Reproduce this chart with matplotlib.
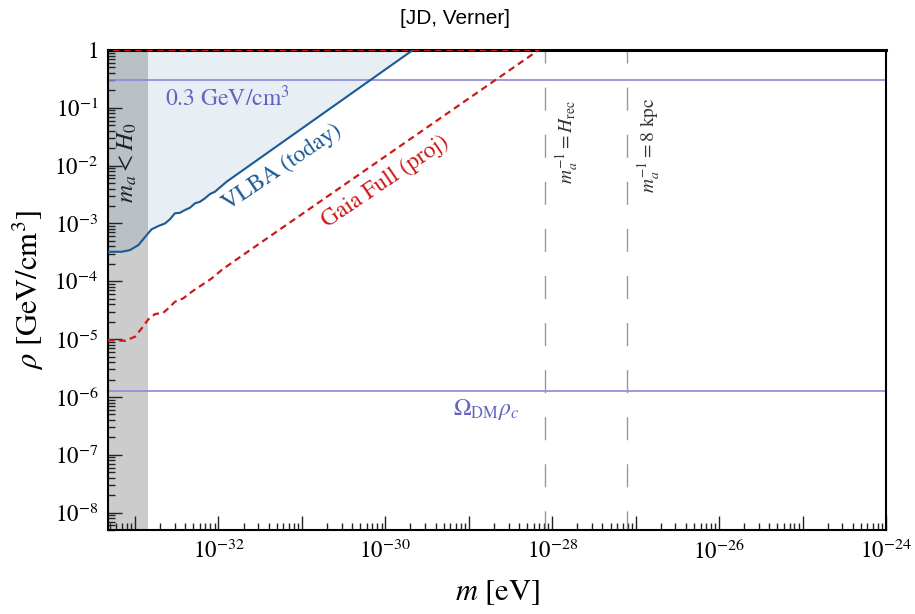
import numpy as np
import matplotlib
matplotlib.use("Agg")
import matplotlib.pyplot as plt
from matplotlib.ticker import FixedLocator, FuncFormatter, NullFormatter

plt.rcParams['font.family'] = ['STIXGeneral', 'DejaVu Serif']
plt.rcParams['mathtext.fontset'] = 'stix'

# Axis ranges
m_min, m_max = 4.75e-34, 1e-24
rho_min, rho_max = 5.0e-9, 1.0

# VLBA (today) bound
vlba_m = [4.75e-34, 6.93e-34, 8.71e-34, 1.10e-33, 1.38e-33, 1.58e-33, 1.90e-33,
          2.29e-33, 2.62e-33, 3.01e-33, 3.46e-33, 3.97e-33, 4.56e-33, 5.24e-33,
          6.00e-33, 6.89e-33, 7.91e-33, 9.08e-33, 1.25e-32, 2.14e-30]
vlba_rho = [3.24e-4, 3.24e-4, 3.47e-4, 4.23e-4, 6.30e-4, 7.91e-4, 9.02e-4,
            1.00e-3, 1.18e-3, 1.50e-3, 1.53e-3, 1.71e-3, 1.87e-3, 2.23e-3,
            2.37e-3, 2.72e-3, 3.23e-3, 3.54e-3, 5.26e-3, 1.0]

# Gaia Full (projected) bound
gaia_m = [4.75e-34, 7.59e-34, 1.00e-33, 1.20e-33, 1.44e-33, 1.74e-33, 2.18e-33,
          2.51e-33, 3.01e-33, 3.78e-33, 4.78e-33, 6.30e-33, 8.30e-33, 1.09e-32,
          1.50e-32, 6.89e-29]
gaia_rho = [9.62e-6, 9.35e-6, 1.10e-5, 1.53e-5, 2.19e-5, 2.71e-5, 2.85e-5,
            3.40e-5, 4.42e-5, 5.06e-5, 6.58e-5, 8.59e-5, 1.12e-4, 1.56e-4,
            2.17e-4, 1.0]

# Reference scales
H0 = 1.44e-33          # eV
m_Hrec = 8.3e-29       # eV
m_8kpc = 7.9e-28       # eV
rho_local = 0.3        # GeV/cm^3
rho_cosmo = 1.26e-6    # GeV/cm^3

# Tick decades
x_decades = list(range(-33, -23))
y_decades = list(range(-8, 1))

blue = '#1a5a96'
red = '#cc1a1a'
lav = '#8a8ad8'
lavtxt = '#6464c0'

fig = plt.figure(figsize=(9.15, 6.14), dpi=100)
ax = fig.add_axes([108/915, 1-530/614, (886-108)/915, (530-50)/614])
ax.set_xscale('log')
ax.set_yscale('log')
ax.set_xlim(m_min, m_max)
ax.set_ylim(rho_min, rho_max)

# m_a < H_0 region
ax.axvspan(m_min, H0, color='#cccccc', lw=0, zorder=0)

# VLBA excluded region
ax.fill_between(vlba_m, vlba_rho, rho_max, color=blue, alpha=0.1, lw=0, zorder=1)
ax.plot(vlba_m, vlba_rho, color=blue, lw=1.5, zorder=3)

# Gaia projection (closed along the top edge)
ax.plot(gaia_m + [m_min], gaia_rho + [rho_max], color=red, lw=1.6,
        ls=(0, (3, 2)), zorder=3)

# Reference densities
ax.axhline(rho_local, color=lav, lw=1.2, zorder=2)
ax.axhline(rho_cosmo, color=lav, lw=1.2, zorder=2)

# Reference masses, dashed from the top edge downwards
for mv in (m_Hrec, m_8kpc):
    ax.plot([mv, mv], [rho_max, rho_min], color='#999999', lw=1.0,
            ls=(7.2, (16.6, 17.3)), zorder=2)

# Annotations
ax.text(10**-32.64, 10**-0.83, r'0.3 GeV/cm$^3$', color=lavtxt, fontsize=17,
        ha='left', va='center')
ax.text(10**-29.19, 10**-6.22, r'$\Omega_{\rm DM}\rho_c$', color=lavtxt, fontsize=17,
        ha='left', va='center')
ax.text(10**-33.084, 10**-1.955, r'$m_a < H_0$', color='#222222', fontsize=18,
        rotation=90, ha='center', va='center')
ax.text(10**-31.23, 10**-2.03, 'VLBA (today)', color=blue, fontsize=17,
        rotation=34, ha='center', va='center', rotation_mode='anchor')
ax.text(10**-30.0, 10**-2.28, 'Gaia Full (proj)', color=red, fontsize=17,
        rotation=34, ha='center', va='center', rotation_mode='anchor')
ax.text(10**-27.82, 10**-1.6, r'$m_a^{-1} = H_{\rm rec}$', color='#333333',
        fontsize=14, rotation=90, ha='center', va='center')
ax.text(10**-26.84, 10**-1.65, r'$m_a^{-1} = 8$ kpc', color='#333333',
        fontsize=14, rotation=90, ha='center', va='center')

# Ticks (only within the visible range)
x_major = [10.0**e for e in x_decades]
x_minor = [k * 10.0**e for e in range(-34, -24) for k in range(2, 10)
           if m_min <= k * 10.0**e <= m_max]
y_major = [10.0**e for e in y_decades]
y_minor = [k * 10.0**e for e in range(-9, 0) for k in range(2, 10)
           if rho_min <= k * 10.0**e <= rho_max]
ax.xaxis.set_major_locator(FixedLocator(x_major))
ax.xaxis.set_minor_locator(FixedLocator(x_minor))
ax.yaxis.set_major_locator(FixedLocator(y_major))
ax.yaxis.set_minor_locator(FixedLocator(y_minor))


def xfmt(v, pos):
    e = int(round(np.log10(v)))
    return r'$10^{%d}$' % e if e % 2 == 0 else ''


def yfmt(v, pos):
    e = int(round(np.log10(v)))
    return r'$1$' if e == 0 else r'$10^{%d}$' % e


ax.xaxis.set_major_formatter(FuncFormatter(xfmt))
ax.xaxis.set_minor_formatter(NullFormatter())
ax.yaxis.set_major_formatter(FuncFormatter(yfmt))
ax.yaxis.set_minor_formatter(NullFormatter())
ax.tick_params(which='both', direction='in', top=False, right=False,
               labelsize=16.5, width=1.0, color='#222222')
ax.tick_params(which='major', length=10, pad=7)
ax.tick_params(which='minor', length=5)

for s in ('left', 'bottom', 'right'):
    ax.spines[s].set_linewidth(1.5)
ax.spines['top'].set_linewidth(2.2)

ax.set_xlabel(r'$m$ [eV]', fontsize=22, labelpad=10)
ax.set_ylabel(r'$\rho$ [GeV/cm$^3$]', fontsize=22, labelpad=6)
fig.text(455/915, 1-18/614, '[JD, Verner]', family=['Liberation Sans', 'DejaVu Sans'],
         fontsize=15, ha='center', va='center')

fig.savefig('out.png', dpi=100)
